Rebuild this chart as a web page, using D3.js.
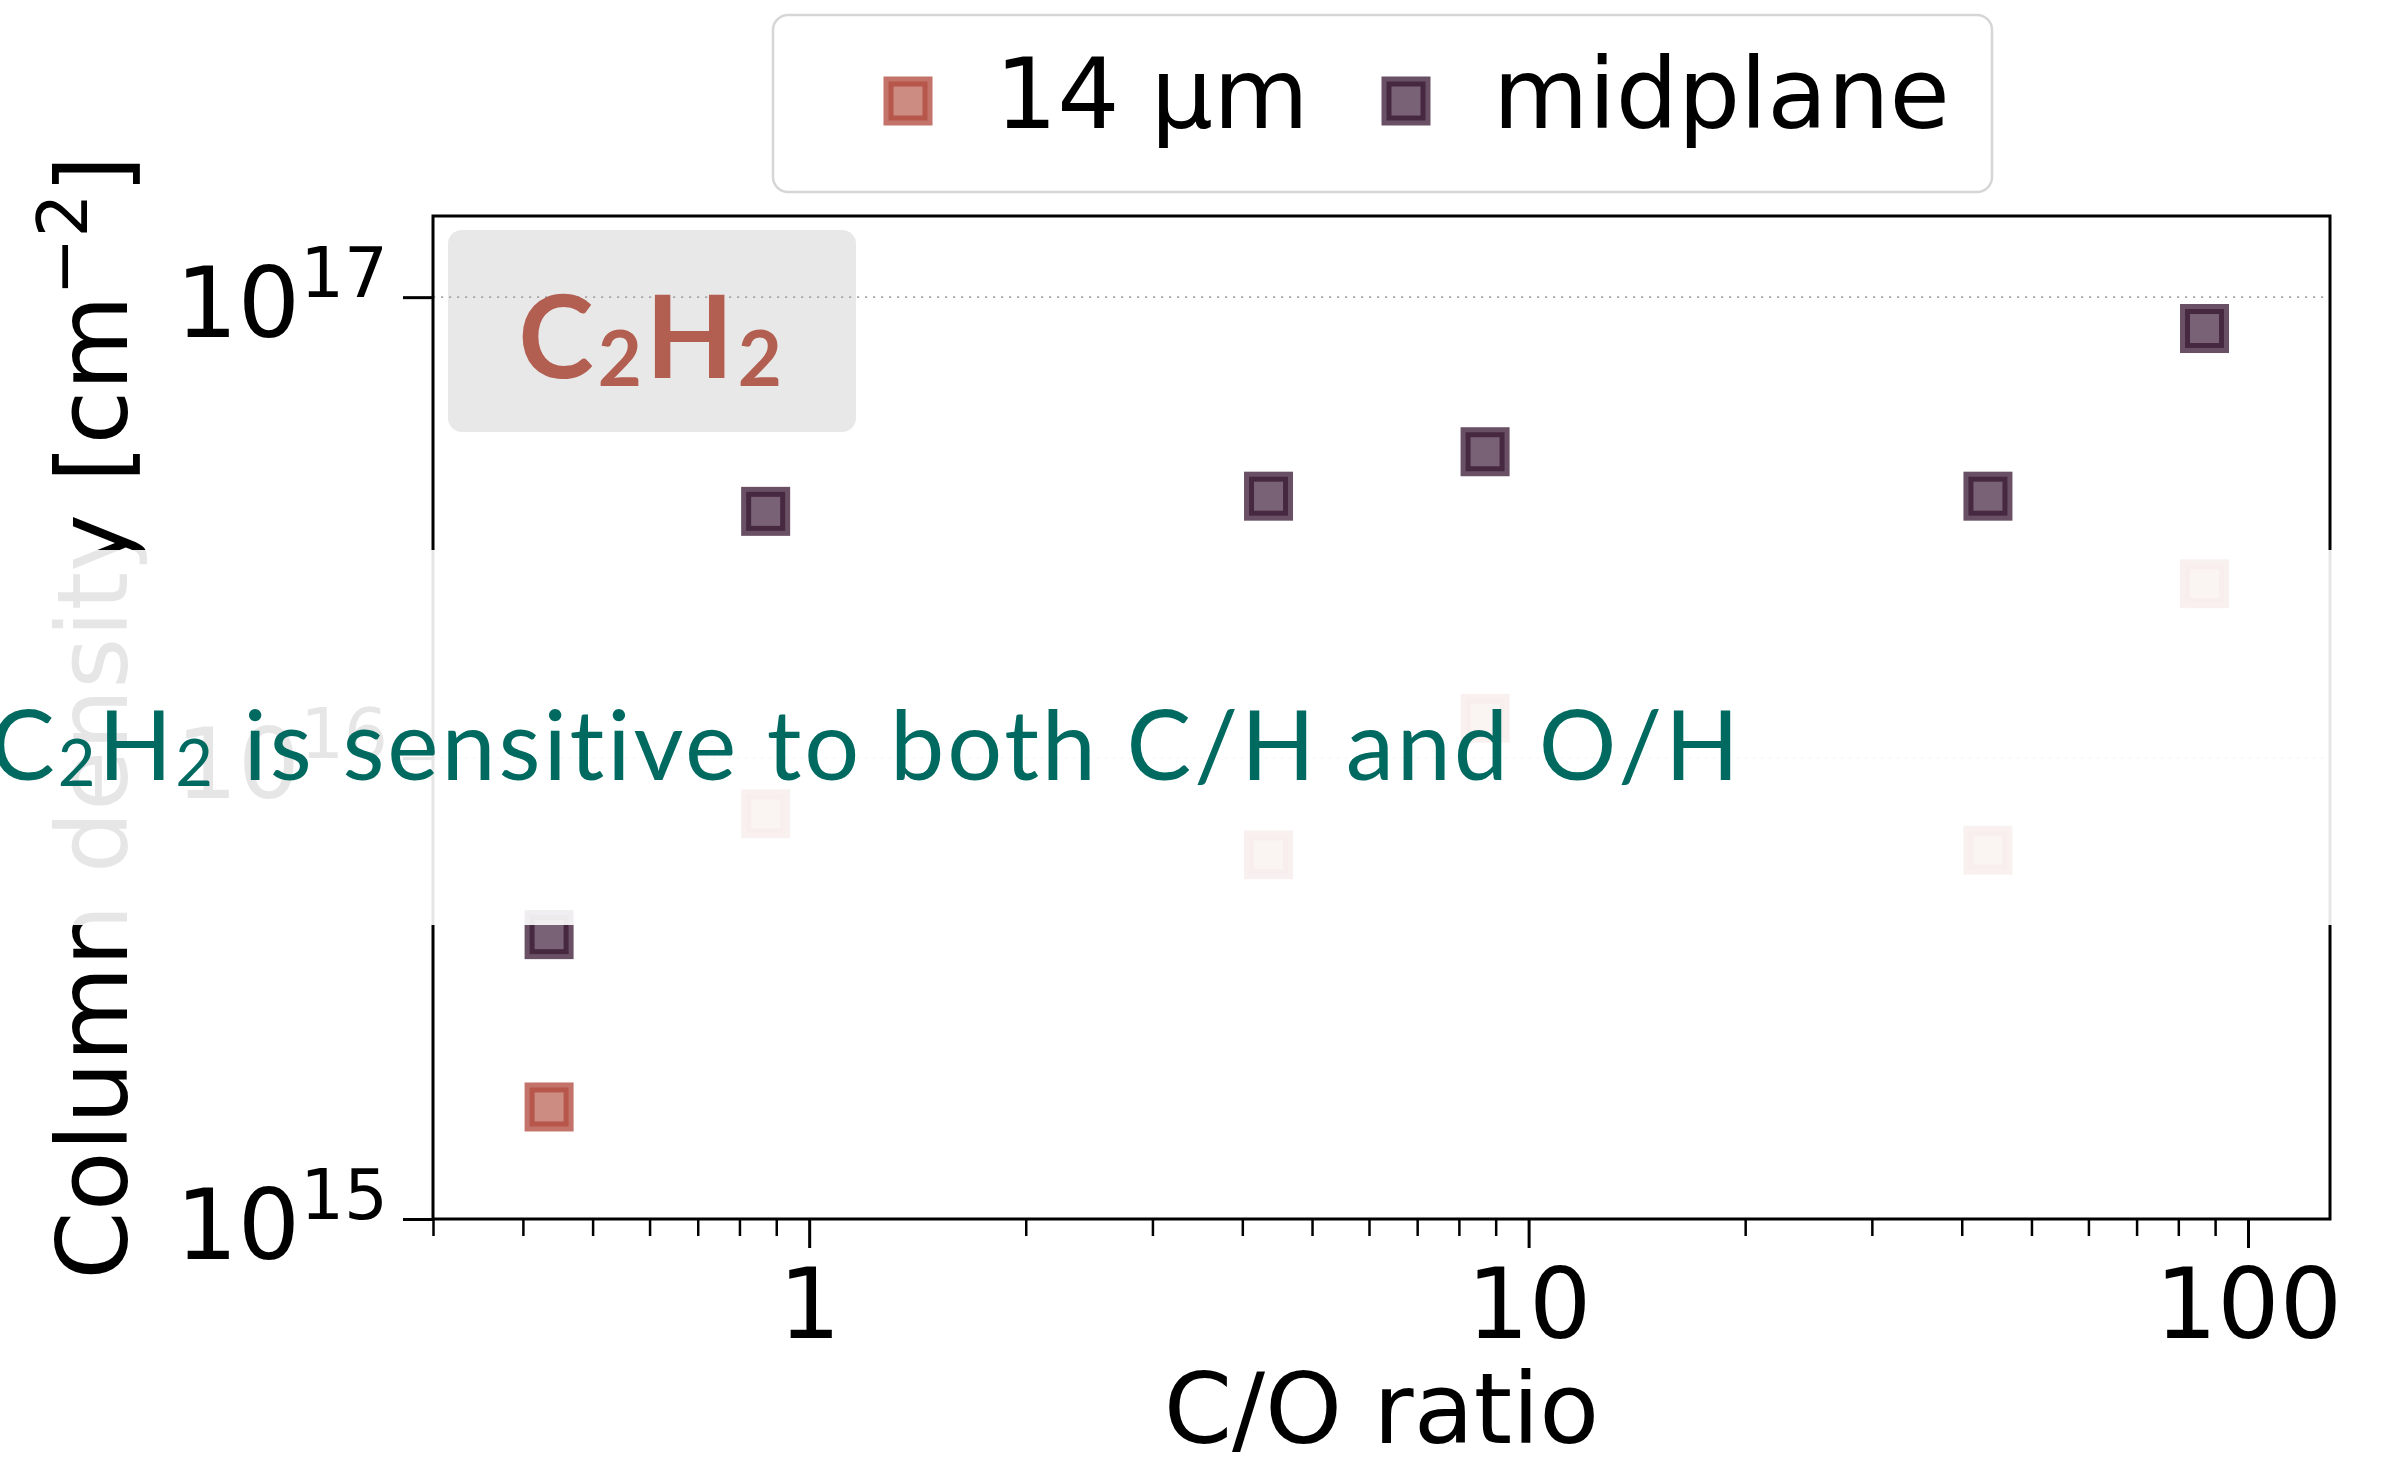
<!DOCTYPE html>
<html>
<head>
<meta charset="utf-8">
<script src="https://cdn.jsdelivr.net/npm/d3@7"></script>
<style>
  html, body { margin: 0; padding: 0; background: #ffffff; }
  svg { display: block; }
</style>
</head>
<body>
<script>
// C/O ratio of each model
const coRatio = [0.435, 0.87, 4.35, 8.7, 43.5, 87];
// C2H2 column density [cm^-2] in the 14 µm emitting layer
const colDens14um = [1.75e15, 7.57e15, 6.17e15, 1.22e16, 6.31e15, 2.39e16];
// C2H2 column density [cm^-2] integrated to the midplane
const colDensMidplane = [4.14e15, 3.43e16, 3.70e16, 4.62e16, 3.70e16, 8.55e16];

const seriesNames = ["14 µm", "midplane"];
const xMajorTicks = [1, 10, 100];
const xMinorTicks = [0.3, 0.4, 0.5, 0.6, 0.7, 0.8, 0.9, 2, 3, 4, 5, 6, 7, 8, 9, 20, 30, 40, 50, 60, 70, 80, 90];
const yMajorTicks = [1e15, 1e16, 1e17];
const yTickExponents = ["15", "16", "17"];
const xDomain = [0.3, 130];
const yDomain = [1e15, 1.5e17];

const W = 2394, H = 1464;
const plot = { left: 433, right: 2330, top: 216, bottom: 1219 };
const FONT = "'DejaVu Sans', sans-serif";
const TITLE_FONT = "Lato, 'Open Sans', sans-serif";

const style = {
  "14 µm":   { fill: "#bc6658", stroke: "#af4437" },
  "midplane": { fill: "#4e2e48", stroke: "#371630" }
};
const markerSide = 39, markerStroke = 10, markerAlpha = 0.75;

const svg = d3.select("body").append("svg")
  .attr("width", W).attr("height", H)
  .attr("viewBox", `0 0 ${W} ${H}`);

const x = d3.scaleLog().domain(xDomain).range([plot.left, plot.right]);
const y = d3.scaleLog().domain(yDomain).range([plot.bottom, plot.top]);

// Molecule tag in the upper-left corner of the axes
svg.append("rect")
  .attr("x", 448).attr("y", 230).attr("width", 408).attr("height", 202)
  .attr("rx", 14).attr("fill", "#e8e8e8");

// Dotted horizontal grid at each decade
svg.append("g").selectAll("line").data(yMajorTicks).join("line")
  .attr("x1", plot.left).attr("x2", plot.right)
  .attr("y1", d => y(d)).attr("y2", d => y(d))
  .attr("stroke", "#a8a8a8").attr("stroke-width", 1.6)
  .attr("stroke-dasharray", "2.2,5.8");

// Scatter markers
function drawSeries(values, name) {
  const s = style[name];
  svg.append("g").selectAll("rect").data(values.map((v, i) => [coRatio[i], v])).join("rect")
    .attr("x", d => x(d[0]) - markerSide / 2)
    .attr("y", d => y(d[1]) - markerSide / 2)
    .attr("width", markerSide).attr("height", markerSide)
    .attr("fill", s.fill).attr("fill-opacity", markerAlpha)
    .attr("stroke", s.stroke).attr("stroke-opacity", markerAlpha)
    .attr("stroke-width", markerStroke).attr("stroke-linejoin", "miter");
}
drawSeries(colDens14um, seriesNames[0]);
drawSeries(colDensMidplane, seriesNames[1]);

// Frame
svg.append("rect")
  .attr("x", plot.left).attr("y", plot.top)
  .attr("width", plot.right - plot.left).attr("height", plot.bottom - plot.top)
  .attr("fill", "none").attr("stroke", "#000").attr("stroke-width", 3);

// x axis: minor then major ticks
const xMinorAxis = svg.append("g").attr("transform", `translate(0,${plot.bottom})`)
  .call(d3.axisBottom(x).tickValues(xMinorTicks).tickSize(17).tickFormat(""));
xMinorAxis.select(".domain").remove();
xMinorAxis.selectAll("line").attr("stroke", "#000").attr("stroke-width", 2.5);

const xMajorAxis = svg.append("g").attr("transform", `translate(0,${plot.bottom})`)
  .call(d3.axisBottom(x).tickValues(xMajorTicks).tickSize(29).tickPadding(0)
    .tickFormat(d3.format("d")));
xMajorAxis.select(".domain").remove();
xMajorAxis.selectAll("line").attr("stroke", "#000").attr("stroke-width", 3);
xMajorAxis.selectAll("text")
  .attr("font-family", FONT).attr("font-size", 98).attr("fill", "#000")
  .attr("y", 0).attr("dy", null)
  .attr("transform", "translate(0,119)");

// y axis: decade ticks with power-of-ten labels
const yAxis = svg.append("g").attr("transform", `translate(${plot.left},0)`)
  .call(d3.axisLeft(y).tickValues(yMajorTicks).tickSize(30).tickFormat(""));
yAxis.select(".domain").remove();
yAxis.selectAll("line").attr("stroke", "#000").attr("stroke-width", 3);
yAxis.selectAll(".tick").each(function (d, i) {
  const t = d3.select(this).append("text")
    .attr("x", -45).attr("y", 39)
    .attr("text-anchor", "end")
    .attr("font-family", FONT).attr("font-size", 98).attr("fill", "#000");
  t.append("tspan").text("10");
  t.append("tspan").attr("font-size", 69).attr("dy", -40).text(yTickExponents[i]);
});

// Axis titles
svg.append("text")
  .attr("x", (plot.left + plot.right) / 2).attr("y", 1443)
  .attr("text-anchor", "middle")
  .attr("font-family", FONT).attr("font-size", 98).attr("fill", "#000")
  .text("C/O ratio");

const yLabel = svg.append("text")
  .attr("transform", `translate(127,${(plot.top + plot.bottom) / 2}) rotate(-90)`)
  .attr("text-anchor", "middle")
  .attr("font-family", FONT).attr("font-size", 98).attr("fill", "#000");
yLabel.append("tspan").text("Column density [cm");
yLabel.append("tspan").attr("font-size", 69).attr("dy", -40).text("\u22122");
yLabel.append("tspan").attr("dy", 40).text("]");

// Molecule name
const tag = svg.append("text")
  .attr("x", 652).attr("y", 378)
  .attr("text-anchor", "middle")
  .attr("font-family", TITLE_FONT).attr("font-weight", 700)
  .attr("font-size", 114).attr("letter-spacing", 4).attr("fill", "#b25e50");
tag.append("tspan").text("C");
tag.append("tspan").attr("font-size", 76).attr("dy", 8).text("2");
tag.append("tspan").attr("dy", -8).text("H");
tag.append("tspan").attr("font-size", 76).attr("dy", 8).text("2");

// Legend
const legend = svg.append("g");
legend.append("rect")
  .attr("x", 773).attr("y", 15).attr("width", 1219).attr("height", 177)
  .attr("rx", 15).attr("fill", "#fff")
  .attr("stroke", "#d6d6d6").attr("stroke-width", 2.5);
const legendItems = [
  { name: seriesNames[0], mx: 908, tx: 995 },
  { name: seriesNames[1], mx: 1406, tx: 1493 }
];
legendItems.forEach(item => {
  const s = style[item.name];
  legend.append("rect")
    .attr("x", item.mx - markerSide / 2).attr("y", 101 - markerSide / 2)
    .attr("width", markerSide).attr("height", markerSide)
    .attr("fill", s.fill).attr("fill-opacity", markerAlpha)
    .attr("stroke", s.stroke).attr("stroke-opacity", markerAlpha)
    .attr("stroke-width", markerStroke);
  legend.append("text")
    .attr("x", item.tx).attr("y", 128)
    .attr("font-family", FONT).attr("font-size", 98).attr("fill", "#000")
    .text(item.name);
});

// Translucent highlight band with the take-away message
svg.append("rect")
  .attr("x", 0).attr("y", 550).attr("width", W).attr("height", 375)
  .attr("fill", "#ffffff").attr("fill-opacity", 0.9);

const note = svg.append("text")
  .attr("x", -10).attr("y", 780)
  .attr("font-family", TITLE_FONT).attr("font-size", 97)
  .attr("letter-spacing", 2.9).attr("fill", "#006a60");
note.append("tspan").text("C");
note.append("tspan").attr("font-size", 65).attr("dy", 6).text("2");
note.append("tspan").attr("dy", -6).text("H");
note.append("tspan").attr("font-size", 65).attr("dy", 6).text("2");
note.append("tspan").attr("dy", -6).text(" is sensitive to both C/H and O/H");
</script>
</body>
</html>
